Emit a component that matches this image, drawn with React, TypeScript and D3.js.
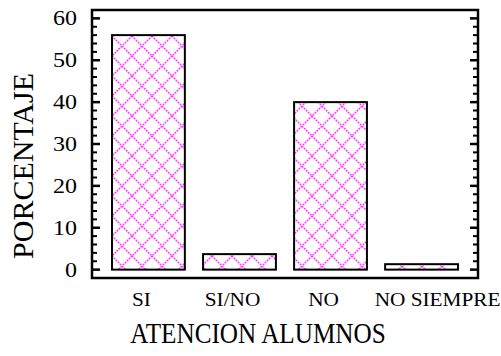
import { range, scaleBand, scaleLinear } from 'd3'

const categories = ['SI', 'SI/NO', 'NO', 'NO SIEMPRE']
const percentages = [56, 3.7, 40, 1.3]
const majorTicks = [0, 10, 20, 30, 40, 50, 60]
const xTitle = 'ATENCION ALUMNOS'
const yTitle = 'PORCENTAJE'

const width = 501
const height = 356
const frame = { left: 92, right: 478, top: 10, bottom: 278 }
const font = 'Liberation Serif'
const hatch = '#ff40ff'

const App = () => {
  const x = scaleBand<string>()
    .domain(categories)
    .range([frame.left, frame.right])
    .paddingInner(0.2)
    .paddingOuter(0.22)

  const y = scaleLinear().domain([-2, 62]).range([frame.bottom, frame.top])

  const minorTicks = range(0, 62, 2).filter((v) => v % 10 !== 0)

  // labels sit a bit left of the bar centres, the long one spills right
  const labelX = (c: string) =>
    (x(c) ?? 0) + x.bandwidth() / 2 + (c.length > 6 ? 16 : -7)

  return (
    <svg
      width={width}
      height={height}
      viewBox={`0 0 ${width} ${height}`}
      style={{ position: 'absolute', left: 0, top: 0, background: 'white' }}
    >
      <defs>
        <pattern id="xhatch" patternUnits="userSpaceOnUse" x={2} y={6} width={20} height={20}>
          <path
            d="M0,0L20,20M20,0L0,20"
            stroke={hatch}
            strokeWidth={1.5}
            strokeDasharray="2 0.8"
            fill="none"
          />
        </pattern>
      </defs>

      {categories.map((c, i) => (
        <rect
          key={c}
          x={x(c)}
          y={y(percentages[i])}
          width={x.bandwidth()}
          height={y(0) - y(percentages[i])}
          fill="url(#xhatch)"
          stroke="black"
          strokeWidth={2}
        />
      ))}

      <rect
        x={frame.left}
        y={frame.top}
        width={frame.right - frame.left}
        height={frame.bottom - frame.top}
        fill="none"
        stroke="black"
        strokeWidth={2.5}
      />

      {majorTicks.map((t) => (
        <g key={`M${t}`} transform={`translate(0, ${y(t)})`}>
          <line x1={frame.left} x2={frame.left + 8} stroke="black" strokeWidth={2.5} />
          <line x1={frame.right} x2={frame.right - 8} stroke="black" strokeWidth={2.5} />
          <g transform={`translate(${frame.left - 15}, 0) scale(1.2, 1)`}>
            <text dy="0.35em" textAnchor="end" fontFamily={font} fontSize={20}>
              {t}
            </text>
          </g>
        </g>
      ))}
      {minorTicks.map((t) => (
        <g key={`m${t}`} transform={`translate(0, ${y(t)})`}>
          <line x1={frame.left} x2={frame.left + 5} stroke="black" strokeWidth={2} />
          <line x1={frame.right} x2={frame.right - 5} stroke="black" strokeWidth={2} />
        </g>
      ))}

      {categories.map((c) => (
        <g key={c} transform={`translate(${labelX(c)}, 306) scale(1.12, 1)`}>
          <text textAnchor="middle" fontFamily={font} fontSize={19}>
            {c}
          </text>
        </g>
      ))}

      <g transform="translate(258, 343) scale(1, 1.2)">
        <text textAnchor="middle" fontFamily={font} fontSize={25.2}>
          {xTitle}
        </text>
      </g>
      <g transform="translate(33, 166) rotate(-90)">
        <text textAnchor="middle" fontFamily={font} fontSize={30}>
          {yTitle}
        </text>
      </g>
    </svg>
  )
}

export default App
